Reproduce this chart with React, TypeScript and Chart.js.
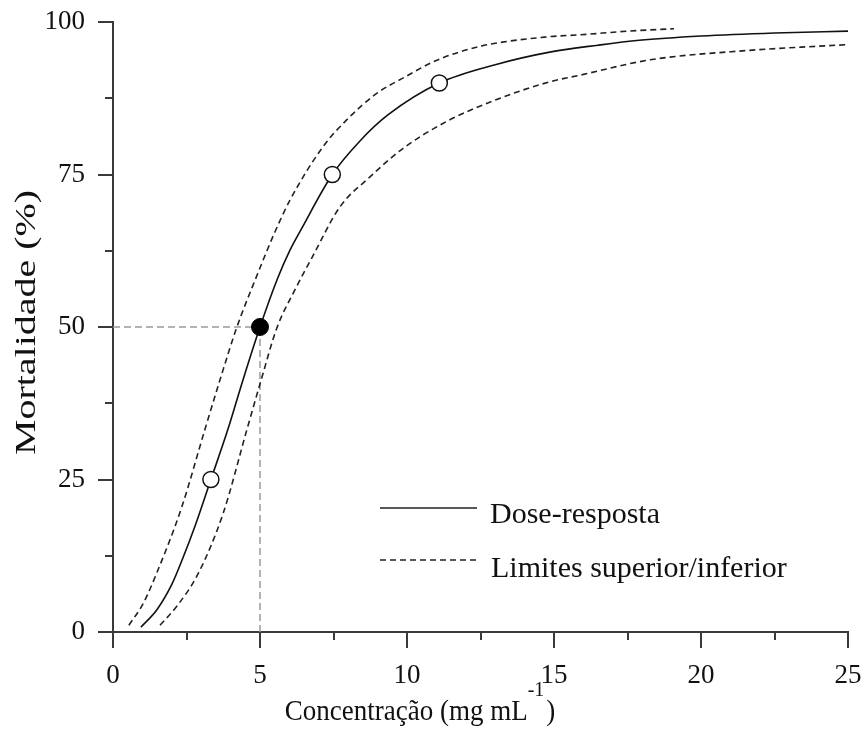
import React, { useEffect, useRef } from "react";
import { Chart, registerables } from "chart.js";

Chart.register(...registerables);

// Fitted dose-response curve (concentration, mortality %)
const doseX = [0.95, 1.5, 2, 2.35, 2.8, 3.33, 3.9, 4.4, 5, 5.6, 6.02, 6.4, 7.46, 8.4, 9.36, 11.1, 13, 14.9, 16.5, 17.9, 20, 22.5, 25];
const doseY = [0.8, 3.7, 7.8, 11.8, 17.5, 25, 33.1, 41, 50, 58, 62.6, 66, 75, 80.5, 84.8, 90, 93, 95.1, 96.2, 97.0, 97.7, 98.2, 98.5];

// Upper confidence limit
const upperX = [0.54, 1.03, 1.49, 2.34, 3.12, 3.65, 4.2, 4.9, 5.5, 6.02, 7.15, 8.0, 8.97, 9.9, 11.0, 12.48, 14.86, 15.9, 17.5, 19.08];
const upperY = [1.1, 4.7, 9.7, 20.5, 33.1, 41.5, 49.8, 58.5, 65.5, 70.8, 79.6, 84.2, 88.3, 90.9, 93.7, 96.0, 97.6, 97.9, 98.5, 98.9];

// Lower confidence limit
const lowerX = [1.6, 2.2, 2.9, 3.75, 4.55, 5.05, 5.57, 6.2, 6.76, 7.72, 8.74, 9.87, 11.35, 13, 14.86, 15.9, 18.27, 21.5, 25];
const lowerY = [1.1, 4.4, 9.6, 19.5, 33.1, 41.5, 49.8, 56.2, 61.3, 69.7, 74.6, 79.3, 83.7, 87.2, 90.2, 91.3, 93.8, 95.3, 96.3];

// Lethal concentrations (LC25, LC75, LC90) and LC50
const markerX = [3.33, 7.46, 11.1];
const markerY = [25, 75, 90];
const lc50X = [5];
const lc50Y = [50];

// Axes
const xTicks = [0, 5, 10, 15, 20, 25];
const yTicks = [0, 25, 50, 75, 100];
const xMinorTicks = [2.5, 7.5, 12.5, 17.5, 22.5];
const yMinorTicks = [12.5, 37.5, 62.5, 87.5];

const legendLabels = ["Dose-resposta", "Limites superior/inferior"];
const xTitleMain = "Concentração (mg mL";
const xTitleSup = "-1";
const xTitleEnd = ")";
const yTitle = "Mortalidade (%)";

const FONT = "'Liberation Serif', 'Times New Roman', serif";
const AXIS_COLOR = "#3a3a3a";
const CURVE_DASH = [6, 4];

const zip = (xs: number[], ys: number[]) => xs.map((x, i) => ({ x, y: ys[i] }));

const decorPlugin = {
  id: "decor",
  afterDraw(chart: any) {
    const { ctx, chartArea, scales } = chart;
    const xs = scales.x;
    const ys = scales.y;
    ctx.save();

    // minor ticks
    ctx.strokeStyle = AXIS_COLOR;
    ctx.lineWidth = 2;
    xMinorTicks.forEach((v) => {
      const px = Math.round(xs.getPixelForValue(v));
      ctx.beginPath();
      ctx.moveTo(px, chartArea.bottom);
      ctx.lineTo(px, chartArea.bottom + 8);
      ctx.stroke();
    });
    yMinorTicks.forEach((v) => {
      const py = Math.round(ys.getPixelForValue(v));
      ctx.beginPath();
      ctx.moveTo(chartArea.left - 8, py);
      ctx.lineTo(chartArea.left, py);
      ctx.stroke();
    });

    // legend
    ctx.strokeStyle = "#222";
    ctx.lineWidth = 1.6;
    ctx.setLineDash([]);
    ctx.beginPath();
    ctx.moveTo(380, 508);
    ctx.lineTo(477, 508);
    ctx.stroke();
    ctx.setLineDash(CURVE_DASH);
    ctx.beginPath();
    ctx.moveTo(380, 560);
    ctx.lineTo(477, 560);
    ctx.stroke();
    ctx.setLineDash([]);

    ctx.fillStyle = "#111";
    ctx.font = `30px ${FONT}`;
    ctx.textAlign = "left";
    ctx.textBaseline = "alphabetic";
    ctx.fillText(legendLabels[0], 490, 523);
    ctx.fillText(legendLabels[1], 491, 577);

    // x title with superscript, slightly taller glyphs
    ctx.save();
    ctx.translate(0, 720);
    ctx.scale(1, 1.1);
    ctx.font = `27px ${FONT}`;
    const wMain = ctx.measureText(xTitleMain).width;
    ctx.font = `20px ${FONT}`;
    const wSup = ctx.measureText(xTitleSup).width;
    ctx.font = `27px ${FONT}`;
    const wEnd = ctx.measureText(xTitleEnd).width;
    const total = wMain + wSup + wEnd + 2;
    let tx = 420 - total / 2;
    ctx.fillText(xTitleMain, tx, 0);
    tx += wMain;
    ctx.font = `20px ${FONT}`;
    ctx.fillText(xTitleSup, tx, -22);
    tx += wSup + 2;
    ctx.font = `27px ${FONT}`;
    ctx.fillText(xTitleEnd, tx, 0);
    ctx.restore();

    // y title, stretched along its length
    ctx.font = `30px ${FONT}`;
    const wY = ctx.measureText(yTitle).width;
    ctx.translate(35, 455);
    ctx.rotate(-Math.PI / 2);
    ctx.scale(265 / wY, 1);
    ctx.textAlign = "left";
    ctx.fillText(yTitle, 0, 0);

    ctx.restore();
  },
};

export default function App() {
  const canvasRef = useRef<HTMLCanvasElement | null>(null);

  useEffect(() => {
    document.body.style.margin = "0";
    const canvas = canvasRef.current;
    if (!canvas) return;

    const chart = new Chart(canvas, {
      type: "scatter",
      data: {
        datasets: [
          {
            label: "LC50 h",
            data: [{ x: 0, y: lc50Y[0] }, { x: lc50X[0], y: lc50Y[0] }],
            showLine: true,
            borderColor: "#9a9a9a",
            borderWidth: 1.5,
            borderDash: [7, 4],
            pointRadius: 0,
            order: 5,
          },
          {
            label: "LC50 v",
            data: [{ x: lc50X[0], y: 0 }, { x: lc50X[0], y: lc50Y[0] }],
            showLine: true,
            borderColor: "#9a9a9a",
            borderWidth: 1.5,
            borderDash: [7, 4],
            pointRadius: 0,
            order: 5,
          },
          {
            label: legendLabels[1],
            data: zip(upperX, upperY),
            showLine: true,
            borderColor: "#222",
            borderWidth: 1.6,
            borderDash: CURVE_DASH,
            pointRadius: 0,
            cubicInterpolationMode: "monotone",
            order: 4,
          },
          {
            label: legendLabels[1] + " (inf)",
            data: zip(lowerX, lowerY),
            showLine: true,
            borderColor: "#222",
            borderWidth: 1.6,
            borderDash: CURVE_DASH,
            pointRadius: 0,
            cubicInterpolationMode: "monotone",
            order: 4,
          },
          {
            label: legendLabels[0],
            data: zip(doseX, doseY),
            showLine: true,
            borderColor: "#111",
            borderWidth: 1.6,
            pointRadius: 0,
            cubicInterpolationMode: "monotone",
            order: 3,
          },
          {
            label: "CL",
            data: zip(markerX, markerY),
            showLine: false,
            pointRadius: 8,
            pointBackgroundColor: "#fff",
            pointBorderColor: "#111",
            pointBorderWidth: 1.5,
            order: 1,
          },
          {
            label: "CL50",
            data: zip(lc50X, lc50Y),
            showLine: false,
            pointRadius: 8.5,
            pointBackgroundColor: "#000",
            pointBorderColor: "#000",
            pointBorderWidth: 1,
            order: 0,
          },
        ],
      },
      options: {
        responsive: false,
        animation: false,
        events: [],
        layout: { padding: { left: 0, top: 22, right: 17, bottom: 0 } },
        plugins: {
          legend: { display: false },
          tooltip: { enabled: false },
        },
        scales: {
          x: {
            type: "linear",
            min: 0,
            max: 25,
            afterFit: (s: any) => {
              s.height = 115;
              s.paddingLeft = 0;
              s.paddingRight = 0;
            },
            afterBuildTicks: (s: any) => {
              s.ticks = xTicks.map((v) => ({ value: v }));
            },
            ticks: {
              font: { family: FONT, size: 27 },
              color: "#111",
              padding: 12,
              maxRotation: 0,
            },
            grid: {
              drawOnChartArea: false,
              drawTicks: true,
              tickLength: 16,
              color: AXIS_COLOR,
              lineWidth: 2,
            },
            border: { display: true, color: AXIS_COLOR, width: 2 },
          },
          y: {
            type: "linear",
            min: 0,
            max: 100,
            afterFit: (s: any) => {
              s.width = 113;
              s.paddingTop = 0;
              s.paddingBottom = 0;
            },
            afterBuildTicks: (s: any) => {
              s.ticks = yTicks.map((v) => ({ value: v }));
            },
            ticks: {
              font: { family: FONT, size: 27 },
              color: "#111",
              padding: 13,
            },
            grid: {
              drawOnChartArea: false,
              drawTicks: true,
              tickLength: 15,
              color: AXIS_COLOR,
              lineWidth: 2,
            },
            border: { display: true, color: AXIS_COLOR, width: 2 },
          },
        },
      },
      plugins: [decorPlugin],
    } as any);

    return () => chart.destroy();
  }, []);

  return <canvas ref={canvasRef} width={865} height={747} style={{ display: "block" }} />;
}
